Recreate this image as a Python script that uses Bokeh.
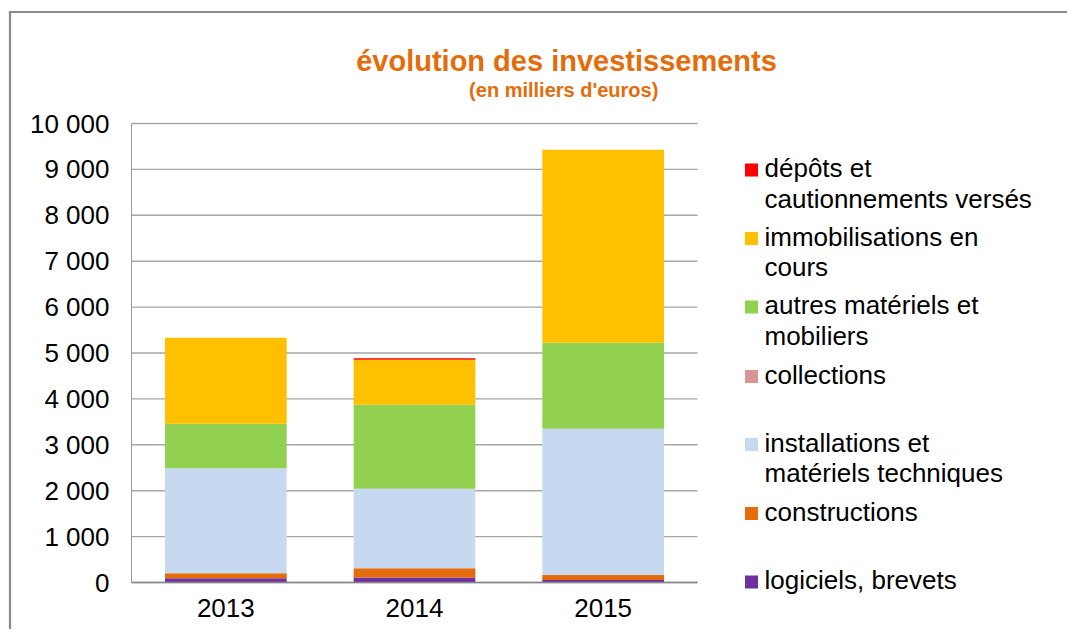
from bokeh.plotting import figure
from bokeh.models import Label, BoxAnnotation, FixedTicker, Range1d
from bokeh.embed import file_html
from bokeh.resources import INLINE

years = ["2013", "2014", "2015"]
series = ["logiciels, brevets", "constructions", "installations et\nmatériels techniques",
          "collections", "autres matériels et\nmobiliers", "immobilisations  en\ncours",
          "dépôts et\ncautionnements versés"]
colors = ["#7030A0", "#E46C0A", "#C6D9F1", "#D99694", "#92D050", "#FFC000", "#FF0000"]

logiciels = [90, 110, 55]
constructions = [110, 200, 110]
installations = [2290, 1735, 3183]
collections = [0, 0, 0]
autres = [970, 1825, 1876]
immobilisations = [1870, 985, 4204]
depots = [0, 30, 0]

y_ticks = [0, 1000, 2000, 3000, 4000, 5000, 6000, 7000, 8000, 9000, 10000]
y_tick_labels = ["0", "1 000", "2 000", "3 000", "4 000", "5 000", "6 000", "7 000", "8 000", "9 000", "10 000"]

title = "évolution des investissements"
subtitle = "(en milliers  d'euros)"

FONT = "Liberation Sans"
W, H = 1067, 629

# layout: plot area occupies picture pixels x 131..697, y 123..582 (frame = whole canvas)
PX_LEFT, PX_RIGHT, PX_BOTTOM = 131, 697, 582
cat_px = (PX_RIGHT - PX_LEFT) / len(years)
px_per_unit_y = 0.0459
x_range = Range1d(-PX_LEFT / cat_px, (W - PX_LEFT) / cat_px)
y_range = Range1d(-(H - PX_BOTTOM) / px_per_unit_y, PX_BOTTOM / px_per_unit_y)

p = figure(x_range=x_range, y_range=y_range, width=W, height=H,
           output_backend="svg", toolbar_location=None, min_border=0)
p.outline_line_color = None
p.xgrid.visible = False
p.ygrid.visible = False

xpos = [i + 0.5 for i in range(len(years))]

# horizontal gridlines spanning the category area
p.segment(x0=0, x1=len(years), y0=y_ticks, y1=y_ticks, line_color="#A6A6A6", line_width=1.4)

keys = ["logiciels", "constructions", "installations", "collections", "autres", "immobilisations", "depots"]
data = dict(x=xpos, logiciels=logiciels, constructions=constructions, installations=installations,
            collections=collections, autres=autres, immobilisations=immobilisations, depots=depots)
p.vbar_stack(keys, x="x", width=0.645, color=colors, source=data, line_color=None)

p.yaxis.fixed_location = 0
p.yaxis.bounds = (y_ticks[0], y_ticks[-1])
p.yaxis.ticker = FixedTicker(ticks=y_ticks)
p.yaxis.major_label_overrides = {t: l for t, l in zip(y_ticks, y_tick_labels)}
p.yaxis.major_tick_line_color = None
p.yaxis.minor_tick_line_color = None
p.yaxis.major_tick_out = 0
p.yaxis.major_tick_in = 0
p.yaxis.major_label_standoff = 22
p.yaxis.axis_line_color = "#9A9A9A"
p.yaxis.axis_line_width = 1

p.xaxis.fixed_location = 0
p.xaxis.bounds = (0, len(years))
p.xaxis.ticker = FixedTicker(ticks=xpos)
p.xaxis.major_label_overrides = {x: y for x, y in zip(xpos, years)}
p.xaxis.major_tick_line_color = None
p.xaxis.minor_tick_line_color = None
p.xaxis.major_tick_out = 0
p.xaxis.major_tick_in = 0
p.xaxis.major_label_standoff = 16
p.xaxis.axis_line_color = "#868686"
p.xaxis.axis_line_width = 1.6
for ax in (p.xaxis, p.yaxis):
    ax.major_label_text_font = FONT
    ax.major_label_text_font_size = "26px"
    ax.major_label_text_color = "#000000"

# title (canvas pixel coordinates)
p.add_layout(Label(x=566, y=60, x_units="canvas", y_units="canvas", text=title,
                   text_align="center", text_baseline="alphabetic", text_font=FONT,
                   text_font_style="bold", text_font_size="29px", text_color="#E46C0A"))
p.add_layout(Label(x=566, y=89, x_units="canvas", y_units="canvas", text=subtitle,
                   text_align="center", text_baseline="alphabetic", text_font=FONT,
                   text_font_style="bold", text_font_size="20px", text_color="#E46C0A"))

# legend (top to bottom as in the picture)
legend_centers = [169.5, 238, 306.5, 376, 444, 513, 581.5]
order = list(range(len(series)))[::-1]
for idx, cy in zip(order, legend_centers):
    p.add_layout(BoxAnnotation(left=744.5, right=757.5, top=cy - 6.5, bottom=cy + 6.5,
                               left_units="canvas", right_units="canvas", top_units="canvas", bottom_units="canvas",
                               fill_color=colors[idx], fill_alpha=1, line_color=None))
    for k, line in enumerate(series[idx].split("\n")):
        p.add_layout(Label(x=764, y=cy - 2 + 30.5 * k, x_units="canvas", y_units="canvas",
                           text=line, text_align="left", text_baseline="alphabetic", text_font=FONT,
                           text_font_size="26px", text_color="#000000"))

# outer chart border: top and left edges only, kept inside the canvas
for l, r, t, b in [(8.4, W, 10.4, 12.6), (8.4, 10.6, 10.4, H)]:
    p.add_layout(BoxAnnotation(left=l, right=r, top=t, bottom=b,
                               left_units="canvas", right_units="canvas", top_units="canvas", bottom_units="canvas",
                               fill_color="#8B8B8B", fill_alpha=1, line_color=None))

open("out.html", "w").write(file_html(p, INLINE))
